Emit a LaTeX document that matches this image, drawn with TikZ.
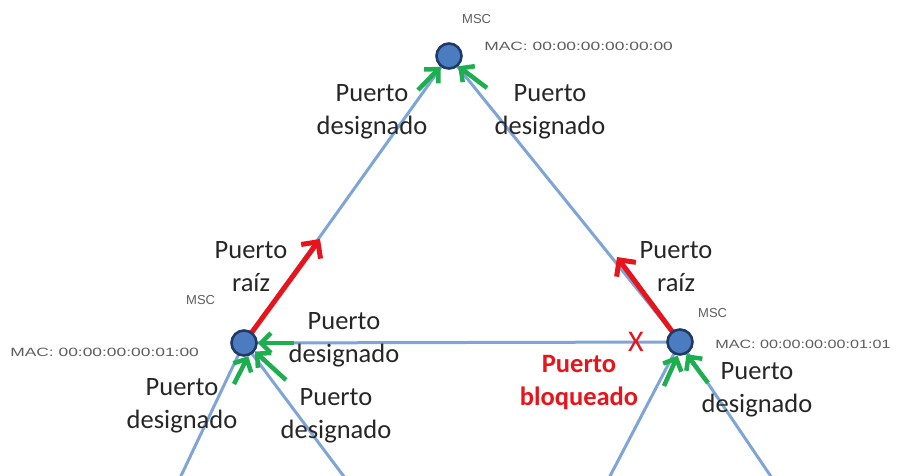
\documentclass[tikz,border=0pt]{standalone}
\usepackage{fontspec}
\setmainfont{Carlito}
\newfontfamily\smallfont{Liberation Sans}
\usetikzlibrary{arrows.meta}
\definecolor{linkblue}{HTML}{7FA5D6}
\definecolor{nodefill}{HTML}{4C7CC0}
\definecolor{nodeedge}{HTML}{1F3A66}
\definecolor{arrgreen}{HTML}{1DAE4F}
\definecolor{arrred}{HTML}{E8141B}
\definecolor{txtgray}{HTML}{5E5E5E}
\tikzset{
  link/.style={draw=linkblue, line width=3pt},
  switchnode/.style={circle, minimum size=25pt, inner sep=0pt, fill=nodefill, draw=nodeedge, line width=2.6pt},
  greenarr/.style={draw=arrgreen, line width=4.5pt, -{Straight Barb[length=10pt,width=20pt]}},
  redarr/.style={draw=arrred, line width=5pt, -{Straight Barb[length=12pt,width=24pt]}},
  lbl/.style={font=\fontsize{26.5}{33}\selectfont, text=black!85, align=center, inner sep=0pt},
  msc/.style={font=\smallfont\fontsize{13}{15}\selectfont, text=txtgray, inner sep=0pt},
  mac/.style={font=\smallfont\fontsize{12}{14}\selectfont, text=txtgray, inner sep=0pt, xscale=1.45},
}
\begin{document}
\begin{tikzpicture}[x=1pt,y=-1pt]
\useasboundingbox (0,0) rectangle (899,475);
% endpoints
\coordinate (bl1) at (180,478);
\coordinate (bl2) at (345,478);
\coordinate (br1) at (609,478);
\coordinate (br2) at (772,478);
\coordinate (top) at (449,56);
\coordinate (lft) at (244,343);
\coordinate (rgt) at (680,342);
% links
\draw[link] (top) -- (lft);
\draw[link] (top) -- (rgt);
\draw[link] (lft) -- (rgt);
\draw[link] (lft) -- (bl1);
\draw[link] (lft) -- (bl2);
\draw[link] (rgt) -- (br1);
\draw[link] (rgt) -- (br2);
% red root port arrows
\coordinate (rl) at (320,239);
\coordinate (rr) at (617,257);
\draw[redarr] (lft) -- (rl);
\draw[redarr] (rgt) -- (rr);
% switches
\node[switchnode] (T) at (top) {};
\node[switchnode] (L) at (lft) {};
\node[switchnode] (R) at (rgt) {};
% green designated port arrows
\coordinate (g1) at (418,90);
\coordinate (g2) at (487,88);
\coordinate (g3) at (294,343);
\coordinate (g4) at (234,384);
\coordinate (g5) at (286,380);
\coordinate (g6) at (664,386);
\coordinate (g7) at (708,383);
\draw[greenarr] (g1) -- (T.-128);
\draw[greenarr] (g2) -- (T.-48);
\draw[greenarr] (g3) -- (L.east);
\draw[greenarr] (g4) -- (L.-72);
\draw[greenarr] (g5) -- (L.-38);
\draw[greenarr] (g6) -- (R.-100);
\draw[greenarr] (g7) -- (R.-62);
% blocked port mark
\node[text=arrred, font=\fontsize{30}{32}\selectfont, inner sep=0pt] (X) at (636,342) {X};
% small labels
\node[msc, anchor=west] (mT) at (462,19) {MSC};
\node[mac, anchor=west] (aT) at (484,46) {MAC: 00:00:00:00:00:00};
\node[msc, anchor=west] (mL) at (186,300) {MSC};
\node[mac, anchor=west] (aL) at (10,352) {MAC: 00:00:00:00:01:00};
\node[msc, anchor=west] (mR) at (698,313) {MSC};
\node[mac, anchor=west, xscale=0.93] (aR) at (715,344) {MAC: 00:00:00:00:01:01};
% port labels
\node[lbl] (p1) at (372,112) {Puerto\\designado};
\node[lbl] (p2) at (550,112) {Puerto\\designado};
\node[lbl] (p3) at (251,267) {Puerto\\raíz};
\node[lbl] (p4) at (676,267) {Puerto\\raíz};
\node[lbl] (p5) at (344,340) {Puerto\\designado};
\node[lbl] (p6) at (182,406) {Puerto\\designado};
\node[lbl] (p7) at (336,416) {Puerto\\designado};
\node[lbl] (p8) at (757,390) {Puerto\\designado};
\node[lbl, text=arrred, font=\bfseries\fontsize{26.5}{33}\selectfont] (pb) at (579,382) {Puerto\\bloqueado};
\end{tikzpicture}
\end{document}
